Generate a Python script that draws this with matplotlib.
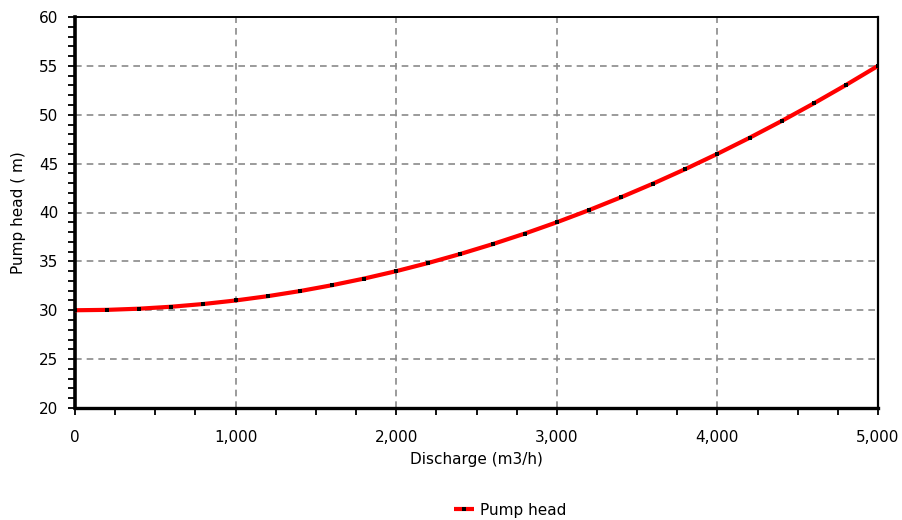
import matplotlib
matplotlib.use("Agg")
import matplotlib.pyplot as plt
from matplotlib.ticker import MultipleLocator, FuncFormatter

# Pump characteristic: discharge (m3/h) vs. head (m)
discharge = [0, 200, 400, 600, 800, 1000, 1200, 1400, 1600, 1800, 2000,
             2200, 2400, 2600, 2800, 3000, 3200, 3400, 3600, 3800, 4000,
             4200, 4400, 4600, 4800, 5000]
pump_head = [30.0, 30.04, 30.16, 30.36, 30.64, 31.0, 31.44, 31.96, 32.56,
             33.24, 34.0, 34.84, 35.76, 36.76, 37.84, 39.0, 40.24, 41.56,
             42.96, 44.44, 46.0, 47.64, 49.36, 51.16, 53.04, 55.0]

plt.rcParams['font.family'] = ['DejaVu Sans']
fs = 11

fig = plt.figure(figsize=(9.03, 5.20), dpi=100)
ax = fig.add_axes([75 / 903, 1 - 408 / 520, (878 - 75) / 903, (408 - 17) / 520])

ax.plot(discharge, pump_head, color='#ff0000', lw=3.0, solid_capstyle='butt',
        marker='s', markersize=2.2, markerfacecolor='black',
        markeredgecolor='black', markeredgewidth=0, label='Pump head',
        zorder=3)

ax.set_xlim(0, 5000)
ax.set_ylim(20, 60)
ax.xaxis.set_major_locator(MultipleLocator(1000))
ax.xaxis.set_minor_locator(MultipleLocator(250))
ax.yaxis.set_major_locator(MultipleLocator(5))
ax.yaxis.set_minor_locator(MultipleLocator(1))
ax.xaxis.set_major_formatter(FuncFormatter(lambda v, p: f"{int(v):,}"))

ax.grid(True, which='major', color='#8a8a8a', linestyle=(0, (4, 3)), lw=1.2)
ax.set_axisbelow(True)

for side, lw in (('left', 2.6), ('bottom', 2.4), ('top', 1.4), ('right', 1.6)):
    ax.spines[side].set_linewidth(lw)
    ax.spines[side].set_color('black')

ax.tick_params(which='both', direction='out', length=5, width=1.3,
               color='black', labelsize=fs)
ax.tick_params(axis='y', which='major', pad=7)
ax.tick_params(axis='x', which='major', pad=11)

ax.set_xlabel('Discharge (m3/h)', fontsize=fs, labelpad=5)
ax.set_ylabel('Pump head ( m)', fontsize=fs, labelpad=9)

leg = fig.legend(loc='center', bbox_to_anchor=(510 / 903, 1 - 510 / 520),
                 frameon=False, fontsize=fs, handlelength=1.3,
                 handletextpad=0.4)

fig.savefig('out.png', dpi=100)
